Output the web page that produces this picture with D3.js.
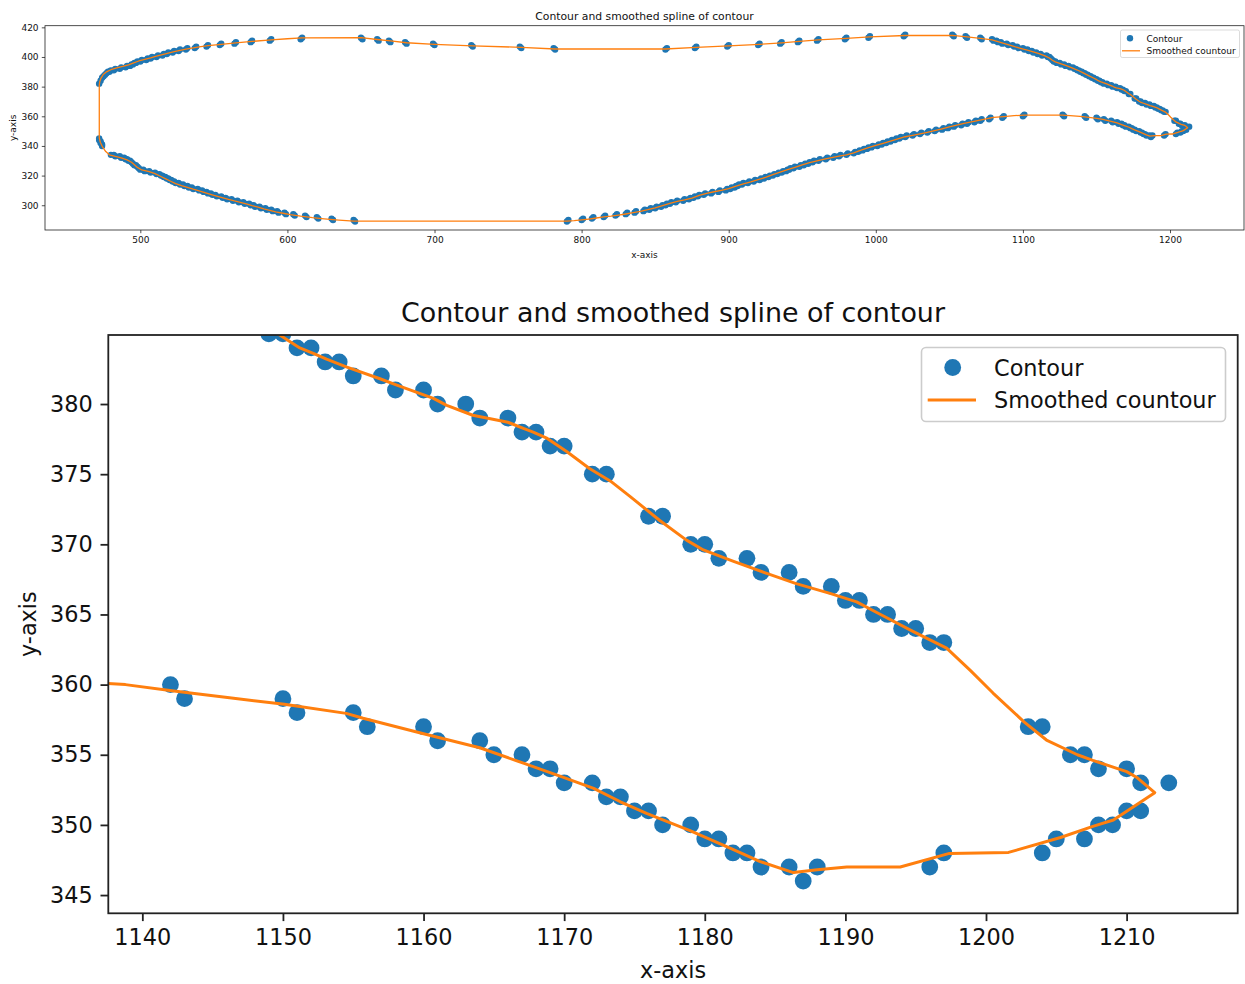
<!DOCTYPE html>
<html>
<head>
<meta charset="utf-8">
<script src="https://cdn.jsdelivr.net/npm/d3@7"></script>
<style>
  body { margin: 0; background: #fff; }
  svg { display: block; }
  text { font-family: "DejaVu Sans", sans-serif; fill: #111; }
</style>
</head>
<body>
<svg id="chart" width="1245" height="984"></svg>
<script>
// Contour pixels stored as horizontal runs: [y, firstX, lastX].
// Each run contributes its end pixels as contour points.
const upperLeftRuns = [
  [382,472,472],[384,473,473],[386,474,474],[387,475,475],[388,476,476],[389,477,477],
  [390,478,479],[391,480,482],[392,483,486],[393,487,490],[394,491,493],[395,494,495],
  [396,496,497],[397,498,500],[398,501,504],[399,505,507],[400,508,511],[401,512,515],
  [402,516,518],[403,519,522],[404,523,526],[405,527,531],[406,532,537],[407,538,545],
  [408,546,554],[409,555,564],[410,565,575],[411,576,588],[412,589,609],[413,610,650]
];
const topRuns = [
  [412,651,661],[411,662,669],[410,670,680],[409,681,699],[408,700,725],[407,726,758],
  [406,759,781],[405,782,857],[406,858,877],[407,878,899],[408,900,920],[409,921,935],
  [410,936,947],[411,948,960],[412,961,979],[413,980,995],[414,996,1019],[415,1020,1052],
  [414,1053,1061],[413,1062,1071],[412,1072,1079]
];
const upperRightRuns = [
  [411,1080,1082],[410,1083,1085],[409,1086,1089],[408,1090,1093],[407,1094,1096],
  [406,1097,1100],[405,1101,1103],[404,1104,1106],[403,1107,1109],[402,1110,1112],
  [401,1113,1116],[400,1117,1118],[399,1119,1119],[398,1120,1120],[397,1121,1122],
  [396,1123,1125],[395,1126,1128],[394,1129,1131],[393,1132,1134],[392,1135,1136],
  [391,1137,1138],[390,1139,1140],[389,1141,1142],[388,1143,1144],[387,1145,1146],
  [386,1147,1148],[385,1149,1150],[384,1151,1152],[383,1153,1154],[382,1155,1157],
  [381,1158,1160],[380,1161,1163],[379,1164,1166],[378,1167,1168],[377,1169,1170],
  [375,1172,1173],[372,1176,1177],[370,1179,1180],[369,1181,1183],[368,1184,1186],
  [367,1187,1189],[366,1190,1191],[365,1192,1193],[364,1194,1195],[363,1196,1197],
  [357,1203,1204],[355,1206,1207],[354,1208,1210],[353,1211,1213]
];
const lowerRightRuns = [
  [351,1210,1211],[350,1208,1209],[349,1205,1207],[348,1197,1204],[347,1188,1196],
  [346,1187,1187],[347,1184,1186],[348,1182,1183],[349,1180,1181],[350,1177,1179],
  [351,1175,1176],[352,1173,1174],[353,1170,1172],[354,1168,1169],[355,1165,1167],
  [356,1161,1164],[357,1156,1160],[358,1151,1155],[359,1143,1150],[360,1128,1142],
  [361,1101,1127],[360,1087,1100],[359,1078,1086],[358,1072,1077],[357,1068,1071],
  [356,1063,1067],[355,1059,1062],[354,1054,1058],[353,1050,1053],[352,1046,1049],
  [351,1041,1045],[350,1036,1040],[349,1031,1035],[348,1026,1030],[347,1021,1025],
  [346,1017,1020],[345,1014,1016],[344,1011,1013],[343,1008,1010],[342,1005,1007],
  [341,1002,1004],[340,998,1001],[339,995,997],[338,992,994],[337,989,991],
  [336,986,988],[335,981,985],[334,976,980],[333,972,975],[332,967,971],
  [331,962,966],[330,958,961],[329,955,957],[328,952,954],[327,949,951],
  [326,945,948],[325,942,944],[324,940,941],[323,937,939],[322,934,936],
  [321,931,933],[320,928,930],[319,925,927],[318,922,924],[317,918,921],
  [316,914,917],[315,910,913],[314,907,909],[313,905,906],[312,902,904],
  [311,899,901],[310,894,898],[309,889,893],[308,884,888],[307,880,883],
  [306,877,879],[305,874,876],[304,870,873],[303,865,869],[302,861,864],
  [301,858,860],[300,855,857],[299,851,854],[298,847,850],[297,843,846],
  [296,837,842],[295,831,836],[294,824,830],[293,816,823],[292,808,815],
  [291,801,807],[290,791,800],[289,646,790]
];
const lowerLeftRuns = [
  [290,631,645],[291,621,630],[292,613,620],[293,605,612],[294,599,604],[295,594,598],
  [296,590,593],[297,586,589],[298,582,585],[299,578,581],[300,575,577],[301,571,574],
  [302,567,570],[303,563,566],[304,559,562],[305,556,558],[306,552,555],[307,549,551],
  [308,546,548],[309,543,545],[310,540,542],[311,536,539],[312,533,535],[313,530,532],
  [314,527,529],[315,524,526],[316,522,523],[317,520,521],[318,518,519],[319,516,517],
  [320,514,515],[321,511,513],[322,507,510],[323,503,506],[324,500,502],[325,499,499],
  [326,498,498],[327,496,497],[328,495,495],[329,494,494],[330,492,493],[331,490,491],
  [332,487,489],[333,483,486],[334,480,482],[340,474,474],[341,474,474],[342,473,473],
  [343,473,473],[344,472,472],[345,472,472]
];

// Smoothed closed spline of the contour, as [x, y] vertices.
const smoothLeft = [
  [472.1,345.5],[472.1,381],[472.4,383.3],[473.3,385.8],[474.8,388.2],[477,390],[480,391.4],
  [484,392.6],[488,393.6],[492,394.7],[495.5,396],[499,397.3],[503,398.4],[507,399.4],
  [511,400.5],[515,401.6],[519,402.6],[523,403.6],[527,404.5],[531,405.3],[535,406],
  [540,406.8],[546,407.6],[555,408.5],[565,409.5],[576,410.5],[589,411.5],[600,412.3],
  [610,412.9],[650,413]
];
const smoothTop = [
  [661,411.8],[670,410.9],[681,409.6],[700,408.5],[726,407.5],[759,406.5],[782,405.4],
  [857,405.4],[878,406.5],[900,407.5],[921,408.5],[936,409.5],[948,410.5],[961,411.5],
  [980,412.5],[996,413.5],[1020,414.5],[1052,414.6],[1062,413.6],[1071,412.6],[1079,411.6]
];
const smoothUpperRight = [
  [1083,410.4],[1087,409.2],[1091,408],[1095,406.8],[1099,405.7],[1103,404.6],[1107,403.4],
  [1111,402.2],[1115,400.8],[1118,399.3],[1120,397.8],[1122,396.7],[1125,395.7],[1129,394.3],
  [1133,392.8],[1137,391.2],[1141,389.3],[1145,387.3],[1148,385.8],[1149.8,384.9],
  [1151.2,384.0],[1152.2,383.6],[1153.1,383.2],[1154.5,382.65],[1156.9,381.8],[1158.1,381.35],
  [1160.7,380.4],[1161.65,379.9],[1163.5,379.2],[1166.0,378.7],[1167.1,378.26],[1167.8,378.0],
  [1168.8,377.55],[1170.2,376.6],[1171.8,375.4],[1173.3,374.5],[1174.7,373.4],[1176.8,371.7],
  [1178.7,370.3],[1179.9,369.6],[1182.0,368.8],[1184.2,368.0],[1186.5,367.2],[1188.9,366.5],
  [1190.8,365.9],[1192.5,365.0],[1194.8,363.8],[1197.2,362.6],[1198.9,361.0],[1200.5,359.4],
  [1202.7,357.35],[1204.3,356.05],[1206.5,355.0],[1207.6,354.6],[1210.0,353.8],[1210.7,353.4],
  [1212.0,352.3]
];
const smoothLowerRight = [
  [1209.06,350.35],[1207.6,349.9],[1205.3,349.1],[1201.6,348.04],[1197.4,347.97],[1193.9,347.0],
  [1190.1,347.0],[1188.0,346.8],[1186.3,346.6],[1183.9,347.4],[1182.0,348.26],[1178.95,349.6],
  [1175.9,350.8],[1174.0,351.65],[1172.1,352.6],[1169.9,353.4],[1167.1,354.4],[1164.0,355.5],
  [1160.0,356.5],[1155.7,357.6],[1154.5,357.95],[1150.1,358.6],[1146.2,359.06],[1142.1,359.56],
  [1138.8,360.0],[1132,360.4],[1127,360.8],[1101,360.8],[1094,360.4],[1087,359.8],[1080,359.2],
  [1075,358.2],[1070,357.2],[1065,356.2],[1060,355.2],[1055,354.1],[1050,352.8],[1045,351.5],
  [1040,350.3],[1035,349.2],[1030,348.2],[1025,347.2],[1020,346.2],[1015,344.8],[1010,343.3],
  [1005,341.8],[1000,340.3],[995,338.8],[990,337.2],[985,335.3],[980,334],[975,333.1],
  [970,332.1],[965,331.1],[960,330],[955,328.8],[950,327.3],[945,325.6],[940,324],
  [935,322.3],[930,320.6],[925,318.8],[920,317.2],[915,315.7],[910,314.4],[905,312.9],
  [900,311.2],[895,310.1],[890,309.1],[885,308],[880,306.7],[875,304.8],[870,303.6],
  [865,302.6],[860,301.2],[855,299.8],[850,298.3],[845,297],[840,295.9],[835,295],
  [830,294.1],[825,293.3],[820,292.6],[815,292.1],[810,291.4],[805,290.7],[800,290.1],
  [795,289.6],[790,289.3]
];
const smoothLowerLeft = [
  [645,289.3],[635,290],[625,290.8],[617,291.6],[609,292.6],[602,293.7],[597,294.6],
  [592,295.6],[588,296.6],[584,297.6],[580,298.7],[576,299.8],[572,301],[568,302],
  [564,302.9],[560,303.9],[555,305.3],[550,306.7],[545,308.2],[540,309.7],[536,310.8],
  [532,312],[528,313.2],[524,314.6],[521,316],[518,317.4],[514,319.4],[510,321.3],
  [506,322.6],[501,323.8],[498,325.5],[496,327.3],[494,329],[491,330.6],[487,331.9],
  [483,332.9],[479,334],[476.5,336.2],[474.5,339],[472.8,342.5]
];

// Axis ticks
const overviewXTicks = [500, 600, 700, 800, 900, 1000, 1100, 1200];
const overviewYTicks = [300, 320, 340, 360, 380, 400, 420];
const detailXTicks = [1140, 1150, 1160, 1170, 1180, 1190, 1200, 1210];
const detailYTicks = [345, 350, 355, 360, 365, 370, 375, 380];

const TITLE = "Contour and smoothed spline of contour";
const LEGEND_POINTS = "Contour";
const LEGEND_LINE = "Smoothed countour";
const BLUE = "#1f77b4";
const ORANGE = "#ff7f0e";

const contourPoints = [].concat(upperLeftRuns, topRuns, upperRightRuns, lowerRightRuns, lowerLeftRuns)
  .flatMap(([y, xa, xb]) => xa === xb ? [[xa, y]] : [[xa, y], [xb, y]]);
const smoothed = [].concat(smoothLeft, smoothTop, smoothUpperRight, smoothLowerRight, smoothLowerLeft);

const svg = d3.select("#chart");

function drawPanel(o) {
  const x = d3.scaleLinear().domain(o.xDomain).range([o.left, o.right]);
  const y = d3.scaleLinear().domain(o.yDomain).range([o.bottom, o.top]);
  const g = svg.append("g");

  g.append("clipPath").attr("id", o.id)
    .append("rect")
    .attr("x", o.left).attr("y", o.top)
    .attr("width", o.right - o.left).attr("height", o.bottom - o.top);

  const plot = g.append("g").attr("clip-path", `url(#${o.id})`);
  plot.selectAll("circle").data(contourPoints).join("circle")
    .attr("cx", d => x(d[0])).attr("cy", d => y(d[1]))
    .attr("r", o.r).attr("fill", BLUE);
  plot.append("path").datum(smoothed)
    .attr("d", d3.line().x(d => x(d[0])).y(d => y(d[1])).curve(d3.curveLinearClosed))
    .attr("fill", "none").attr("stroke", ORANGE)
    .attr("stroke-width", o.lineWidth).attr("stroke-linejoin", "round");

  const xAxis = g.append("g").attr("transform", `translate(0,${o.bottom})`)
    .call(d3.axisBottom(x).tickValues(o.xTicks).tickSize(o.tick).tickPadding(o.pad).tickFormat(d3.format("d")));
  const yAxis = g.append("g").attr("transform", `translate(${o.left},0)`)
    .call(d3.axisLeft(y).tickValues(o.yTicks).tickSize(o.tick).tickPadding(o.pad).tickFormat(d3.format("d")));
  [xAxis, yAxis].forEach(a => {
    a.select(".domain").remove();
    a.selectAll(".tick line").attr("stroke", "#222").attr("stroke-width", o.spine);
    a.selectAll(".tick text").attr("font-size", o.font).attr("fill", "#222")
      .style("font-family", '"DejaVu Sans", sans-serif');
  });

  g.append("rect")
    .attr("x", o.left).attr("y", o.top)
    .attr("width", o.right - o.left).attr("height", o.bottom - o.top)
    .attr("fill", "none").attr("stroke", "#222").attr("stroke-width", o.spine);

  g.append("text").attr("x", (o.left + o.right) / 2).attr("y", o.titleY)
    .attr("text-anchor", "middle").attr("font-size", o.titleFont).text(TITLE);
  g.append("text").attr("x", (o.left + o.right) / 2).attr("y", o.xLabelY)
    .attr("text-anchor", "middle").attr("font-size", o.font).text("x-axis");
  g.append("text")
    .attr("transform", `translate(${o.yLabelX},${(o.top + o.bottom) / 2}) rotate(-90)`)
    .attr("text-anchor", "middle").attr("font-size", o.font).text("y-axis");

  const L = o.legend;
  g.append("rect").attr("x", L.x).attr("y", L.y).attr("width", L.w).attr("height", L.h)
    .attr("rx", L.rx).attr("fill", "#fff").attr("fill-opacity", 0.8)
    .attr("stroke", "#cccccc").attr("stroke-width", L.stroke);
  g.append("circle").attr("cx", L.markX).attr("cy", L.row1).attr("r", o.r).attr("fill", BLUE);
  g.append("line").attr("x1", L.lineX1).attr("x2", L.lineX2).attr("y1", L.row2).attr("y2", L.row2)
    .attr("stroke", ORANGE).attr("stroke-width", o.lineWidth);
  g.append("text").attr("x", L.textX).attr("y", L.row1).attr("dy", "0.36em")
    .attr("font-size", o.font).text(LEGEND_POINTS);
  g.append("text").attr("x", L.textX).attr("y", L.row2).attr("dy", "0.36em")
    .attr("font-size", o.font).text(LEGEND_LINE);
}

// Overview of the whole contour
drawPanel({
  id: "clip-overview",
  left: 45, right: 1244, top: 25.7, bottom: 230,
  xDomain: [435.2, 1250.3], yDomain: [283.3, 421.1],
  xTicks: overviewXTicks, yTicks: overviewYTicks,
  r: 3.2, lineWidth: 1.3, tick: 3.2, pad: 3.2, spine: 0.8,
  font: 9, titleFont: 10.8, titleY: 20, xLabelY: 258, yLabelX: 16,
  legend: { x: 1120.5, y: 30, w: 119, h: 27.5, rx: 1.8, stroke: 0.7,
            markX: 1130, lineX1: 1122, lineX2: 1140, textX: 1146.5, row1: 38.3, row2: 50.8 }
});

// Close-up of the right-hand tip
drawPanel({
  id: "clip-detail",
  left: 108.3, right: 1237.7, top: 335, bottom: 913.3,
  xDomain: [1137.58, 1217.9], yDomain: [343.7, 384.92],
  xTicks: detailXTicks, yTicks: detailYTicks,
  r: 8.4, lineWidth: 3, tick: 7.8, pad: 7.8, spine: 1.8,
  font: 22.4, titleFont: 26.9, titleY: 322, xLabelY: 978, yLabelX: 36,
  legend: { x: 921.5, y: 347.5, w: 304, h: 74, rx: 4.5, stroke: 1.6,
            markX: 952.7, lineX1: 927.7, lineX2: 976, textX: 994, row1: 367.5, row2: 400 }
});
</script>
</body>
</html>
